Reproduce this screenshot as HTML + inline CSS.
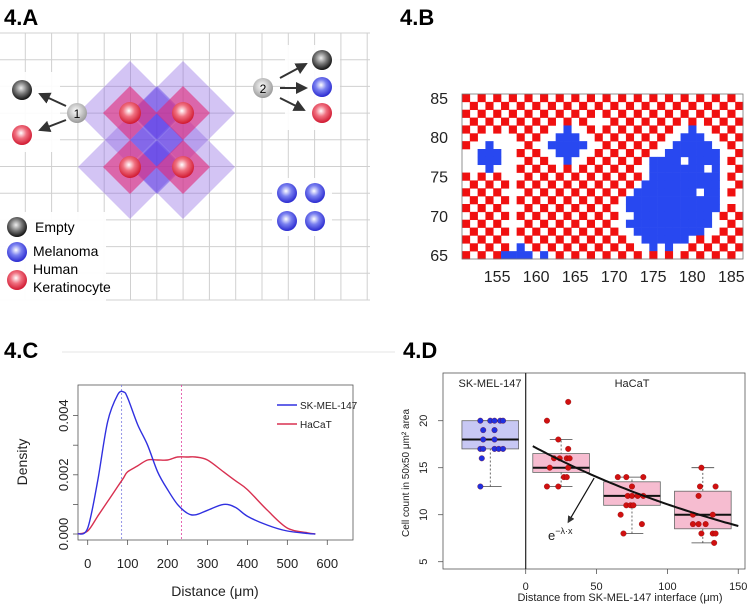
<!DOCTYPE html>
<html><head><meta charset="utf-8"><style>
body{margin:0;background:#fff;}
svg{display:block;font-family:"Liberation Sans",sans-serif;}
</style></head><body>
<svg id="fig" width="750" height="609" viewBox="0 0 750 609" xmlns="http://www.w3.org/2000/svg">
<defs>
<radialGradient id="gBlack" cx="0.45" cy="0.4" r="0.6"><stop offset="0" stop-color="#eee"/><stop offset="0.5" stop-color="#777"/><stop offset="1" stop-color="#111"/></radialGradient>
<radialGradient id="gBlue" cx="0.45" cy="0.4" r="0.6"><stop offset="0" stop-color="#fff"/><stop offset="0.45" stop-color="#7a80f0"/><stop offset="1" stop-color="#2a2ad0"/></radialGradient>
<radialGradient id="gRed" cx="0.45" cy="0.4" r="0.6"><stop offset="0" stop-color="#fff"/><stop offset="0.45" stop-color="#f07080"/><stop offset="1" stop-color="#d01830"/></radialGradient>
<radialGradient id="gGray" cx="0.45" cy="0.4" r="0.6"><stop offset="0" stop-color="#fff"/><stop offset="1" stop-color="#999"/></radialGradient>
<marker id="ah" markerWidth="6" markerHeight="6" refX="5" refY="3" orient="auto"><path d="M0,0 L6,3 L0,6 z" fill="#333"/></marker>
</defs>

<!-- Panel A -->
<g id="panelA">
<text x="4" y="25" font-size="22" font-weight="bold">4.A</text>
<g id="gridA"></g>
<g>
<polygon points="130,61 182,113 130,165 78,113" fill="rgba(140,100,225,0.38)"/>
<polygon points="183,61 235,113 183,165 131,113" fill="rgba(140,100,225,0.38)"/>
<polygon points="130,115 182,167 130,219 78,167" fill="rgba(140,100,225,0.38)"/>
<polygon points="183,115 235,167 183,219 131,167" fill="rgba(140,100,225,0.38)"/>
<polygon points="157,113 184,140 157,167 130,140" fill="rgba(80,50,230,0.5)"/>
<polygon points="157,86 184,113 157,140 130,113" fill="rgba(80,50,230,0.4)"/>
<polygon points="157,140 184,167 157,194 130,167" fill="rgba(80,50,230,0.4)"/>
<polygon points="130,86 157,113 130,140 103,113" fill="rgba(225,40,120,0.6)"/>
<polygon points="183,86 210,113 183,140 156,113" fill="rgba(225,40,120,0.6)"/>
<polygon points="130,140 157,167 130,194 103,167" fill="rgba(225,40,120,0.6)"/>
<polygon points="183,140 210,167 183,194 156,167" fill="rgba(225,40,120,0.6)"/>
<circle cx="130" cy="113" r="11" fill="url(#gRed)"/><circle cx="183" cy="113" r="11" fill="url(#gRed)"/>
<circle cx="130" cy="167" r="11" fill="url(#gRed)"/><circle cx="183" cy="167" r="11" fill="url(#gRed)"/>
</g>
<rect x="0" y="72" width="60" height="80" fill="#fff" opacity="0.9"/>
<g>
<line x1="66" y1="106" x2="40" y2="94" stroke="#333" stroke-width="2" marker-end="url(#ah)"/>
<line x1="66" y1="120" x2="40" y2="130" stroke="#333" stroke-width="2" marker-end="url(#ah)"/>
<circle cx="77" cy="113" r="10" fill="url(#gGray)"/><text x="77" y="118" font-size="12" text-anchor="middle">1</text>
<circle cx="22" cy="90" r="10" fill="url(#gBlack)"/><circle cx="22" cy="135" r="10" fill="url(#gRed)"/>
</g>
<rect x="285" y="45" width="55" height="85" fill="#fff" opacity="0.9"/>
<g>
<line x1="280" y1="78" x2="306" y2="64" stroke="#333" stroke-width="2" marker-end="url(#ah)"/>
<line x1="280" y1="88" x2="306" y2="88" stroke="#333" stroke-width="2" marker-end="url(#ah)"/>
<line x1="280" y1="98" x2="304" y2="110" stroke="#333" stroke-width="2" marker-end="url(#ah)"/>
<circle cx="263" cy="88" r="10" fill="url(#gGray)"/><text x="263" y="93" font-size="12" text-anchor="middle">2</text>
<circle cx="322" cy="60" r="10" fill="url(#gBlack)"/><circle cx="322" cy="87" r="10" fill="url(#gBlue)"/><circle cx="322" cy="113" r="10" fill="url(#gRed)"/>
</g>
<rect x="272" y="178" width="60" height="58" fill="#fff" opacity="0.9"/>
<g>
<circle cx="287" cy="193" r="10" fill="url(#gBlue)"/><circle cx="315" cy="193" r="10" fill="url(#gBlue)"/>
<circle cx="287" cy="221" r="10" fill="url(#gBlue)"/><circle cx="315" cy="221" r="10" fill="url(#gBlue)"/>
</g>
<g>
<rect x="0" y="212" width="106" height="90" fill="#fff" opacity="0.95"/>
<circle cx="17" cy="227" r="10" fill="url(#gBlack)"/><text x="35" y="232" font-size="14">Empty</text>
<circle cx="17" cy="252" r="10" fill="url(#gBlue)"/><text x="33" y="256" font-size="14">Melanoma</text>
<circle cx="17" cy="280" r="10" fill="url(#gRed)"/><text x="33" y="274" font-size="14">Human</text>
<text x="33" y="292" font-size="14">Keratinocyte</text>
</g>
</g>

<!-- Panel B -->
<g id="panelB">
<text x="400" y="25" font-size="22" font-weight="bold">4.B</text>
<g id="heat"></g>
<rect x="462" y="94" width="281" height="165" fill="none" stroke="#777" stroke-width="0.8"/>
<g id="heatAxes" font-size="16" fill="#222"></g>
</g>

<!-- Panel C -->
<g id="panelC">
<text x="4" y="358" font-size="22" font-weight="bold">4.C</text>
<line x1="62" y1="352" x2="375" y2="352" stroke="#e6e6e6" stroke-width="1"/>
<g id="chartC"></g>
</g>

<!-- Panel D -->
<g id="panelD">
<line x1="375" y1="352" x2="395" y2="352" stroke="#e6e6e6" stroke-width="1"/>
<text x="403" y="358" font-size="22" font-weight="bold">4.D</text>
<g id="chartD"></g>
</g>
</svg>
<script>
// ---------- Panel B data ----------
// x = occupied lattice site (keratinocyte on checker sites), B = melanoma, . = empty
const heatRows = [
"xxxxxxxxxxxxxxxxxxxxxxxxxxxxxxxxxxxx",
"xxxxxxxxxxxxxxxxxxxxxxxxxxxxxxxxxxxx",
"xxxxxxxxxxxxxxxxxxxxxxxxxxxxxxxxxxxx",
"xxxxxxxxxxxxxxxxx..xxxxxxxxxxxxxxxxx",
"xxxxxxxxxxx..B..xxxxxxxxxxxx.B.xxxxx",
"xx....xxxxx.BBB.xxxxxxxxxxx.BBB.xxxx",
"x..B...xxx.BBBBB.xxxxxxxxx.BBBBB.xxx",
"..BBB..xxxx.BBB.xxxxxxxxx.BBBBBBB.xx",
"..BBB..xxxxx.B.xxxxxxxx.BBBB.BBBB.xx",
"x..B...xxxxxxxxxxxxxxxx.BBBBBBB.B.xx",
"xxxxxx.xxxxxxxxxxxxxxxx.BBBBBBBBB.xx",
"xxxxxx.xxxxxxxxxxxxxxx.BBBBBBBBBB.xx",
"xxxxxx.xxxxxxxxxxxxxx.BBBBBBBB.BB.xx",
"xxxxxx.xxxxxxxxxxxxx.BBBBBBBBBBBB...",
"xxxxxx.xxxxxxxxxxxxx.BBBBBBBBBBBB.xx",
"xxxxxx.xxxxxxxxxxxxxx.BBBBBBBBBB.xxx",
"xxxxxx.xxxxxxxxxxxxx.BBBBBBBBBBB.xxx",
"xxxxxx.xxxxxxxxxxxxxx.BBBBBBBBB.xxxx",
"xxxxxx.xxxxxxxxxxxxxxx.BBBBBB.xxxxxx",
"xxxxxx.Bxxxxxxxxxxxxxxx.B.B.xxxxxxxx",
"xxxxxBBBB.Bxxxxxxxxxxxxxxxxxxxxxxxxx"
];
const heatXTicks = [155,160,165,170,175,180,185];
const heatYTicks = [65,70,75,80,85];
const heatX0 = 151, heatYTop = 85;
(function(){
  const L=462,T=94,W=281,H=165,nc=36,nr=21;
  const cw=W/nc, ch=H/nr;
  const hx=v=>L+(v-heatX0)*cw, hy=v=>T+(heatYTop+0.5-v)*ch;
  const g=document.getElementById('heat');
  heatRows.forEach((row,r)=>{
    for(let c=0;c<Math.min(nc,row.length);c++){
      const s=row[c];
      let kind=null;
      if(s==='B')kind='B';
      else if(s==='x'&&(r+c)%2===0)kind='R';
      if(!kind)continue;
      const rc=document.createElementNS('http://www.w3.org/2000/svg','rect');
      rc.setAttribute('x',(L+c*cw).toFixed(2));rc.setAttribute('y',(T+r*ch).toFixed(2));
      rc.setAttribute('width',(cw+0.3).toFixed(2));rc.setAttribute('height',(ch+0.3).toFixed(2));
      rc.setAttribute('fill',kind==='R'?'#f01010':'#2848f0');
      
      
      g.appendChild(rc);
    }
  });
  const ax=document.getElementById('heatAxes');
  heatXTicks.forEach(v=>{
    const t=document.createElementNS('http://www.w3.org/2000/svg','text');
    t.setAttribute('x',hx(v)+cw/2);t.setAttribute('y',282);t.setAttribute('text-anchor','middle');
    t.textContent=v;
    
    
    ax.appendChild(t);
  });
  heatYTicks.forEach(v=>{
    const t=document.createElementNS('http://www.w3.org/2000/svg','text');
    t.setAttribute('x',448);t.setAttribute('y',hy(v)+6);t.setAttribute('text-anchor','end');
    t.textContent=v;
    
    
    ax.appendChild(t);
  });
  const ga=document.getElementById('gridA');
  for(let i=0;i<15;i++){const x=-1+i*26.3;const l=document.createElementNS('http://www.w3.org/2000/svg','line');
    l.setAttribute('x1',x);l.setAttribute('x2',x);l.setAttribute('y1',33);l.setAttribute('y2',300);l.setAttribute('stroke','#d0d0d0');ga.appendChild(l);}
  for(let j=0;j<11;j++){const y=33+j*26.7;const l=document.createElementNS('http://www.w3.org/2000/svg','line');
    l.setAttribute('x1',0);l.setAttribute('x2',370);l.setAttribute('y1',y);l.setAttribute('y2',y);l.setAttribute('stroke','#d0d0d0');ga.appendChild(l);}
})();

// ---------- Panel C data ----------
const distX = [-25,0,25,50,75,90,100,125,150,175,200,225,250,270,300,340,370,400,450,500,550,570];
const melDensity = [0,0.0002,0.0018,0.0038,0.0047,0.0048,0.0046,0.0037,0.003,0.0021,0.0015,0.001,0.0007,0.00065,0.0008,0.001,0.0009,0.0006,0.0003,0.0001,0.00002,0];
const hacDensity = [0,0.0001,0.0006,0.0011,0.0016,0.0019,0.0021,0.0023,0.0025,0.0025,0.0025,0.0026,0.0026,0.0026,0.0025,0.0021,0.0018,0.0015,0.0008,0.0002,0.00004,0];
const melMean = 85, hacMean = 235;
const cXTicks = [0,100,200,300,400,500,600];
const cYTicks = [0,0.001,0.002,0.003,0.004];
const cYLabels = ["0.000","","0.002","","0.004"];

// ---------- Panel D data ----------
const skX = [-32,-25,-22,-18,-16,-30,-22,-30,-22,-32,-30,-22,-19,-16,-31,-32];
const skY = [20,20,20,20,20,19,19,18,18,17,17,17,17,17,16,13];
const h1X = [15,30,23,20,24,29,31,17,30,27,29,30,15,23];
const h1Y = [20,22,18,16,16,16,16,15,15,14,14,17,13,13];
const h2X = [65,71,83,75,67,69,82,72,75,79,83,71,74,76];
const h2Y = [14,14,14,13,10,8,9,12,12,12,12,11,11,11];
const h3X = [124,123,134,122,118,132,118,122,127,124,132,134,133];
const h3Y = [15,13,13,12,10,10,9,9,9,8,8,8,7];
const boxCenters = [-25,25,75,125];
const boxQ1 = [17,14.5,11,8.5];
const boxMed = [18,15,12,10];
const boxQ3 = [20,16.5,13.5,12.5];
const boxLo = [13,13,8,7];
const boxHi = [20,18,14,15];
const fitA = 17.7, fitLambda = 0.00466;
const dXTicks = [0,50,100,150];
const dYTicks = [5,10,15,20];

const NS='http://www.w3.org/2000/svg';
function mk(tag,attrs,parent){const e=document.createElementNS(NS,tag);for(const k in attrs)e.setAttribute(k,attrs[k]);parent.appendChild(e);return e;}
function smooth(pts){let d='M'+pts[0][0]+','+pts[0][1];
  for(let i=0;i<pts.length-1;i++){const p0=pts[i-1]||pts[i],p1=pts[i],p2=pts[i+1],p3=pts[i+2]||p2;
    const c1=[p1[0]+(p2[0]-p0[0])/6,p1[1]+(p2[1]-p0[1])/6],c2=[p2[0]-(p3[0]-p1[0])/6,p2[1]-(p3[1]-p1[1])/6];
    d+=' C'+c1[0].toFixed(1)+','+c1[1].toFixed(1)+' '+c2[0].toFixed(1)+','+c2[1].toFixed(1)+' '+p2[0].toFixed(1)+','+p2[1].toFixed(1);}
  return d;}

(function(){
  const g=document.getElementById('chartC');
  const cx=d=>87.7+d*0.3993, cy=v=>534-v*29600;
  const frame=mk('rect',{x:78,y:385,width:275,height:155,fill:'none',stroke:'#555','stroke-width':0.8},g);
  
  
  cXTicks.forEach(v=>{mk('line',{x1:cx(v),x2:cx(v),y1:540,y2:545,stroke:'#555','stroke-width':0.8},g);
    const t=mk('text',{x:cx(v),y:568,'font-size':13,'text-anchor':'middle',fill:'#222'},g);t.textContent=v;
    
    });
  cYTicks.forEach((v,i)=>{mk('line',{x1:73,x2:78,y1:cy(v),y2:cy(v),stroke:'#555','stroke-width':0.8},g);
    if(cYLabels[i]){const t=mk('text',{x:0,y:0,'font-size':13,'text-anchor':'middle',fill:'#222',transform:'translate(68,'+cy(v)+') rotate(-90)'},g);t.textContent=cYLabels[i];
    
    }});
  const xl=mk('text',{x:215,y:596,'font-size':14,'text-anchor':'middle',fill:'#222'},g);xl.textContent='Distance (μm)';
  
  
  const yl=mk('text',{x:0,y:0,'font-size':14,'text-anchor':'middle',fill:'#222',transform:'translate(27,462) rotate(-90)'},g);yl.textContent='Density';
  
  
  const m1=mk('line',{x1:cx(melMean),x2:cx(melMean),y1:385,y2:540,stroke:'#7a7ae0','stroke-width':0.8,'stroke-dasharray':'2,2'},g);
  
  
  const m2=mk('line',{x1:cx(hacMean),x2:cx(hacMean),y1:385,y2:540,stroke:'#e040a0','stroke-width':0.8,'stroke-dasharray':'2,2'},g);
  
  
  const p1=mk('path',{d:smooth(distX.map((d,i)=>[cx(d),cy(hacDensity[i])])),fill:'none',stroke:'#d83050','stroke-width':1.4},g);
  
  
  const p2=mk('path',{d:smooth(distX.map((d,i)=>[cx(d),cy(melDensity[i])])),fill:'none',stroke:'#3030e0','stroke-width':1.4},g);
  
  
  const lg=mk('g',{},g);
  
  
  mk('line',{x1:277,x2:297,y1:405,y2:405,stroke:'#3030e0','stroke-width':1.4},lg);
  const a=mk('text',{x:300,y:409,'font-size':10,fill:'#222'},lg);a.textContent='SK-MEL-147';
  mk('line',{x1:277,x2:297,y1:424,y2:424,stroke:'#d83050','stroke-width':1.4},lg);
  const b=mk('text',{x:300,y:428,'font-size':10,fill:'#222'},lg);b.textContent='HaCaT';
})();

(function(){
  const g=document.getElementById('chartD');
  const dx=u=>525.7+u*1.417, dy=v=>420.7-(v-20)*9.4;
  const fr=mk('rect',{x:443,y:373,width:302,height:196,fill:'none',stroke:'#555','stroke-width':0.8},g);
  
  
  mk('line',{x1:dx(0),x2:dx(0),y1:373,y2:569,stroke:'#222','stroke-width':1.2},g);
  dXTicks.forEach(v=>{mk('line',{x1:dx(v),x2:dx(v),y1:569,y2:574,stroke:'#555','stroke-width':0.8},g);
    const t=mk('text',{x:dx(v),y:590,'font-size':11,'text-anchor':'middle',fill:'#222'},g);t.textContent=v;
    
    });
  dYTicks.forEach(v=>{mk('line',{x1:438,x2:443,y1:dy(v),y2:dy(v),stroke:'#555','stroke-width':0.8},g);
    const t=mk('text',{x:0,y:0,'font-size':11,'text-anchor':'middle',fill:'#222',transform:'translate(427,'+dy(v)+') rotate(-90)'},g);t.textContent=v;
    
    });
  const xl=mk('text',{x:620,y:601,'font-size':11,'text-anchor':'middle',fill:'#222'},g);xl.textContent='Distance from SK-MEL-147 interface (μm)';
  
  
  const yl=mk('text',{x:0,y:0,'font-size':10,'text-anchor':'middle',fill:'#222',transform:'translate(409,473) rotate(-90)'},g);yl.textContent='Cell count in 50x50 μm² area';
  
  
  const s1=mk('text',{x:490,y:387,'font-size':11,'text-anchor':'middle',fill:'#222'},g);s1.textContent='SK-MEL-147';
  
  
  const s2=mk('text',{x:632,y:387,'font-size':11,'text-anchor':'middle',fill:'#222'},g);s2.textContent='HaCaT';
  
  
  boxCenters.forEach((c,i)=>{
    const bg=mk('g',{},g);
    
    
    const l=dx(c-20), r=dx(c+20);
    mk('line',{x1:dx(c),x2:dx(c),y1:dy(boxLo[i]),y2:dy(boxHi[i]),stroke:'#444','stroke-width':0.8,'stroke-dasharray':'2,2'},bg);
    mk('line',{x1:dx(c-8),x2:dx(c+8),y1:dy(boxLo[i]),y2:dy(boxLo[i]),stroke:'#444','stroke-width':0.8},bg);
    mk('line',{x1:dx(c-8),x2:dx(c+8),y1:dy(boxHi[i]),y2:dy(boxHi[i]),stroke:'#444','stroke-width':0.8},bg);
    mk('rect',{x:l,y:dy(boxQ3[i]),width:r-l,height:dy(boxQ1[i])-dy(boxQ3[i]),fill:i===0?'#c8c8f4':'#f6bcd0',stroke:'#666','stroke-width':0.8},bg);
    mk('line',{x1:l,x2:r,y1:dy(boxMed[i]),y2:dy(boxMed[i]),stroke:'#111','stroke-width':2},bg);
  });
  const pts=[[skX,skY,'#2030e0'],[h1X,h1Y,'#d01010'],[h2X,h2Y,'#d01010'],[h3X,h3Y,'#d01010']];
  pts.forEach(([xs,ys,col])=>xs.forEach((x,i)=>{
    const c=mk('circle',{cx:dx(x),cy:dy(ys[i]),r:2.8,fill:col,stroke:'#700','stroke-width':0.3},g);
    
    
  }));
  const fitPts=[];for(let u=5;u<=150;u+=5)fitPts.push([dx(u),dy(fitA*Math.exp(-fitLambda*u))]);
  const fp=mk('path',{d:smooth(fitPts),fill:'none',stroke:'#111','stroke-width':2},g);
  
  
  const arr=mk('line',{x1:dx(48.3),y1:dy(13.9),x2:dx(30),y2:dy(9.2),stroke:'#111','stroke-width':1.2,'marker-end':'url(#ah)'},g);
  
  
  const ft=mk('text',{x:548,y:540,'font-size':13,fill:'#222'},g);
  
  
  ft.innerHTML='e<tspan dy="-6" font-size="9">−λ·x</tspan>';
})();
</script>
</body></html>
